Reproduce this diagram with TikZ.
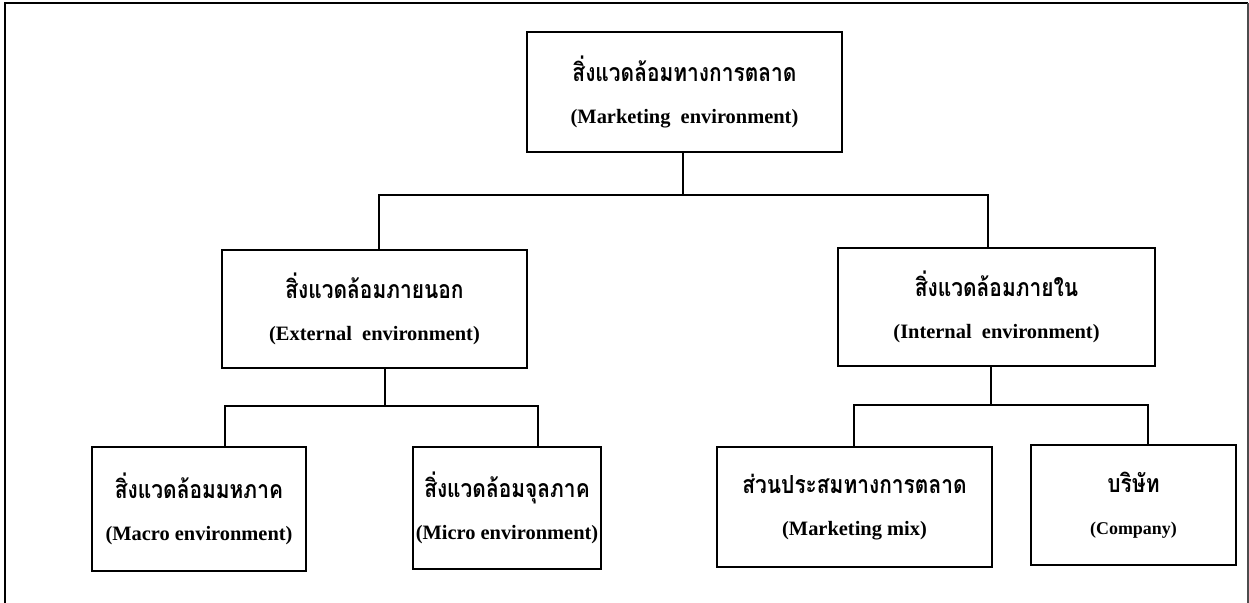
\documentclass[tikz,border=0pt]{standalone}
\usepackage{fontspec}
\setmainfont{Liberation Serif}
\newfontfamily\thai[Script=Thai,FakeStretch=0.84]{Loma}
\newcommand\thline[1]{{\thai\fontsize{25}{42}\selectfont #1}}
\begin{document}
\begin{tikzpicture}[x=1bp,y=-1bp,
  box/.style={draw, line width=2bp, rectangle, inner sep=0pt, align=center,
    font=\bfseries\fontsize{20.5}{42}\selectfont},
  link/.style={line width=2bp}]
\useasboundingbox (0,0) rectangle (1249,603);
% page frame
\draw[line width=2.5bp] (5,603) -- (5,3) -- (1248,3);
\draw[line width=1.2bp, black!70] (1248,3) -- (1248,603);

% boxes
\node[box, minimum width=315bp, minimum height=120bp] (top) at (684.5,92)
  {\thline{สิ่งแวดล้อมทางการตลาด}\\(Marketing\ \ environment)};
\node[box, minimum width=305bp, minimum height=118bp] (ext) at (374.5,309)
  {\thline{สิ่งแวดล้อมภายนอก}\\(External\ \ environment)};
\node[box, minimum width=317bp, minimum height=118bp] (int) at (996.5,307)
  {\thline{สิ่งแวดล้อมภายใน}\\(Internal\ \ environment)};
\node[box, minimum width=214bp, minimum height=124bp] (macro) at (199,509)
  {\thline{สิ่งแวดล้อมมหภาค}\\(Macro environment)};
\node[box, minimum width=188bp, minimum height=122bp] (micro) at (507,508)
  {\thline{สิ่งแวดล้อมจุลภาค}\\(Micro environment)};
\node[box, minimum width=275bp, minimum height=120bp] (mix) at (854.5,507)
  {\thline{ส่วนประสมทางการตลาด}\\(Marketing mix)};
\node[box, minimum width=205bp, minimum height=120bp,
  font=\bfseries\fontsize{18}{42}\selectfont] (comp) at (1133.5,505)
  {\thline{บริษัท}\\(Company)};

% junction points of the tree
\coordinate (j0) at (683,195);
\coordinate (jL) at (379,195);
\coordinate (jR) at (988,195);
\coordinate (k0) at (385,406);
\coordinate (kL) at (225,406);
\coordinate (kR) at (538,406);
\coordinate (m0) at (991,405);
\coordinate (mL) at (854,405);
\coordinate (mR) at (1148,405);

% connectors
\draw[link] (top.south -| j0) -- (j0);
\draw[link] (jL |- ext.north) -- (jL) -- (jR) -- (jR |- int.north);
\draw[link] (ext.south -| k0) -- (k0);
\draw[link] (kL |- macro.north) -- (kL) -- (kR) -- (kR |- micro.north);
\draw[link] (int.south -| m0) -- (m0);
\draw[link] (mL |- mix.north) -- (mL) -- (mR) -- (mR |- comp.north);
\end{tikzpicture}
\end{document}
